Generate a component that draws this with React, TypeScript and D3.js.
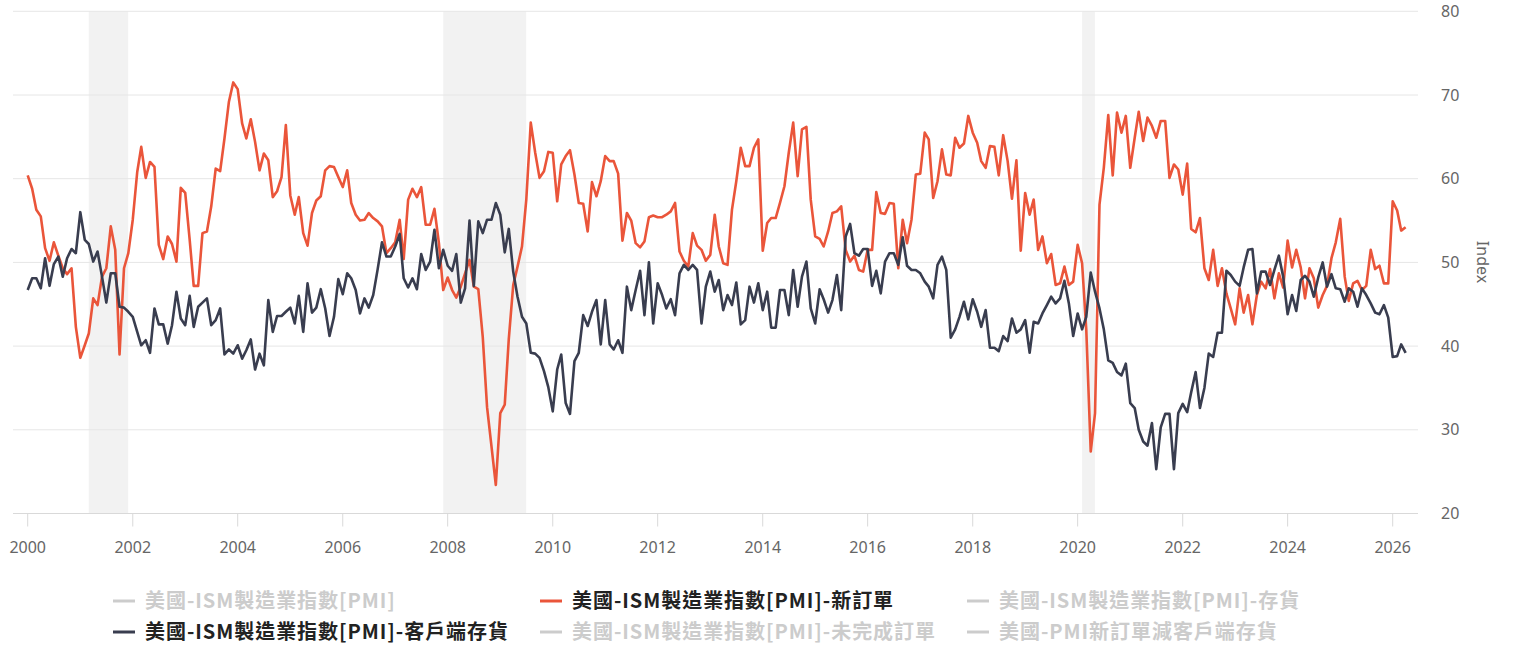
import * as d3 from 'd3';
import React, { useEffect, useRef } from 'react';

// monthly values, Jan 2000 onwards
const startMonth = new Date(2000, 0, 1);

const newOrders = [
    // 2000
    60.4, 58.8, 56.3, 55.5, 51.7, 50.2, 52.4, 50.8, 49.3, 48.6, 49.3, 42.3,
    // 2001
    38.6, 40.1, 41.5, 45.7, 44.9, 48.3, 49.3, 54.3, 51.5, 39.0, 49.3, 51.1,
    // 2002
    55.1, 60.8, 63.8, 60.1, 62.0, 61.4, 52.1, 50.4, 53.1, 52.2, 50.1, 58.9,
    // 2003
    58.3, 52.7, 47.2, 47.2, 53.5, 53.7, 56.7, 61.2, 60.9, 64.8, 69.2, 71.5,
    // 2004
    70.7, 66.6, 64.8, 67.1, 64.4, 61.0, 63.0, 62.2, 57.8, 58.5, 60.2, 66.4,
    // 2005
    58.0, 55.7, 57.8, 53.5, 52.0, 55.9, 57.4, 57.9, 61.0, 61.5, 61.4, 60.2,
    // 2006
    59.0, 61.0, 57.1, 55.7, 55.0, 55.1, 55.9, 55.3, 54.9, 54.3, 51.1, 51.7,
    // 2007
    52.4, 55.1, 50.4, 57.5, 58.8, 57.8, 59.0, 54.5, 54.5, 56.4, 52.3, 46.7,
    // 2008
    48.2, 46.7, 45.8, 47.1, 48.7, 50.3, 47.1, 46.8, 41.1, 32.7, 28.0, 23.4,
    // 2009
    32.0, 33.0, 40.8, 47.3, 49.5, 51.9, 57.5, 66.7, 63.1, 60.1, 60.9, 63.2,
    // 2010
    63.1, 57.3, 61.7, 62.7, 63.4, 60.5, 57.1, 57.0, 53.7, 59.6, 57.9, 59.7,
    // 2011
    62.7, 62.1, 62.1, 60.6, 52.6, 55.9, 55.0, 52.3, 51.8, 52.5, 55.4, 55.6,
    // 2012
    55.4, 55.4, 55.7, 56.1, 57.1, 51.3, 50.2, 49.5, 53.5, 52.0, 51.5, 50.2,
    // 2013
    50.9, 55.7, 51.9, 49.9, 49.7, 56.3, 59.7, 63.7, 61.5, 61.5, 63.7, 64.7,
    // 2014
    51.4, 54.7, 55.3, 55.3, 57.1, 59.1, 63.1, 66.7, 60.3, 65.9, 66.2, 57.5,
    // 2015
    53.1, 52.8, 51.9, 53.7, 55.9, 56.1, 56.7, 51.5, 50.1, 50.8, 49.1, 48.9,
    // 2016
    51.5, 51.5, 58.4, 55.9, 55.8, 57.1, 57.0, 49.3, 55.1, 52.3, 55.1, 60.5,
    // 2017
    60.6, 65.5, 64.7, 57.7, 59.7, 63.5, 60.5, 60.4, 64.9, 63.7, 64.2, 67.5,
    // 2018
    65.5, 64.3, 62.1, 61.3, 63.9, 63.8, 60.4, 65.2, 62.1, 57.6, 62.2, 51.4,
    // 2019
    58.3, 55.7, 57.5, 51.5, 53.1, 49.9, 51.0, 47.3, 47.5, 49.5, 47.3, 47.7,
    // 2020
    52.1, 49.9, 42.0, 27.4, 32.0, 56.9, 61.3, 67.6, 60.4, 67.9, 65.5, 67.5,
    // 2021
    61.3, 64.9, 68.0, 64.5, 67.3, 66.3, 64.9, 66.9, 66.9, 60.1, 61.7, 61.1,
    // 2022
    58.1, 61.8, 54.0, 53.6, 55.3, 49.3, 47.9, 51.5, 47.2, 49.3, 46.3, 44.5,
    // 2023
    42.6, 46.9, 44.0, 46.1, 42.6, 46.1, 47.7, 46.9, 49.2, 45.7, 48.7, 47.0,
    // 2024
    52.6, 49.4, 51.5, 49.4, 45.7, 49.3, 48.1, 44.6, 46.1, 47.2, 50.5, 52.4,
    // 2025
    55.2, 48.3, 45.4, 47.5, 47.8, 46.7, 47.2, 51.5, 49.2, 49.6, 47.5, 47.5,
    // 2026
    57.3, 56.2, 53.8, 54.2,
];

const customerInventories = [
    // 2000
    46.7, 48.1, 48.1, 46.9, 50.5, 47.2, 49.8, 50.7, 48.3, 50.5, 51.6, 51.1,
    // 2001
    56.0, 52.7, 52.2, 50.1, 51.3, 48.3, 45.2, 48.7, 48.7, 44.7, 44.6, 44.1,
    // 2002
    43.5, 41.7, 40.1, 40.7, 39.2, 44.5, 42.6, 42.6, 40.3, 42.5, 46.5, 43.3,
    // 2003
    42.5, 46.0, 42.3, 44.7, 45.2, 45.7, 42.5, 43.1, 44.5, 39.0, 39.6, 39.1,
    // 2004
    40.1, 38.5, 39.5, 40.8, 37.2, 39.1, 37.7, 45.5, 41.7, 43.6, 43.6, 44.1,
    // 2005
    44.6, 42.7, 46.0, 41.7, 47.5, 44.0, 44.6, 46.8, 44.5, 41.2, 43.5, 48.0,
    // 2006
    46.2, 48.7, 48.1, 46.7, 43.9, 45.7, 44.6, 46.1, 49.2, 52.4, 50.7, 50.7,
    // 2007
    51.9, 53.4, 48.1, 47.0, 48.1, 46.8, 51.0, 49.1, 50.1, 53.9, 49.3, 51.5,
    // 2008
    49.6, 49.0, 51.0, 45.2, 46.9, 55.0, 47.2, 54.9, 53.5, 55.1, 55.1, 57.1,
    // 2009
    55.7, 51.2, 54.0, 48.9, 45.9, 43.5, 42.7, 39.2, 39.1, 38.6, 37.0, 35.1,
    // 2010
    32.2, 37.2, 39.0, 33.2, 31.9, 38.2, 39.2, 43.7, 42.4, 44.1, 45.5, 40.2,
    // 2011
    45.5, 40.2, 39.6, 40.7, 39.2, 47.1, 44.3, 46.7, 49.0, 43.7, 50.0, 42.7,
    // 2012
    47.5, 46.1, 44.5, 45.6, 43.7, 48.7, 49.7, 49.1, 49.7, 49.1, 42.7, 47.1,
    // 2013
    48.9, 46.5, 47.9, 44.3, 46.1, 44.9, 47.6, 42.6, 43.1, 47.1, 45.2, 47.5,
    // 2014
    44.3, 46.5, 42.2, 42.2, 46.7, 46.7, 43.7, 49.1, 44.7, 48.3, 50.1, 44.5,
    // 2015
    42.7, 46.8, 45.6, 44.0, 45.5, 48.5, 44.3, 53.1, 54.6, 51.1, 50.8, 51.6,
    // 2016
    51.6, 47.2, 49.0, 46.3, 50.1, 51.1, 51.1, 49.7, 53.0, 49.6, 49.1, 49.1,
    // 2017
    48.7, 47.7, 47.1, 45.7, 49.7, 50.7, 49.1, 41.0, 42.0, 43.5, 45.3, 43.2,
    // 2018
    45.6, 44.1, 42.3, 44.3, 39.8, 39.8, 39.4, 41.2, 40.6, 43.3, 41.6, 42.0,
    // 2019
    43.1, 39.2, 42.9, 42.7, 43.9, 44.9, 45.9, 45.1, 45.7, 47.8, 45.1, 41.2,
    // 2020
    43.9, 42.0, 43.5, 48.8, 46.5, 44.5, 42.0, 38.3, 38.0, 36.9, 36.5, 37.9,
    // 2021
    33.2, 32.6, 30.0, 28.6, 28.1, 30.8, 25.3, 30.3, 31.9, 31.9, 25.3, 32.0,
    // 2022
    33.1, 32.1, 34.5, 36.9, 32.6, 35.0, 39.1, 38.7, 41.6, 41.6, 49.0, 48.5,
    // 2023
    47.7, 47.2, 49.4, 51.5, 51.6, 46.3, 48.9, 48.9, 47.3, 49.1, 50.8, 48.3,
    // 2024
    43.8, 46.1, 44.2, 47.9, 48.4, 47.7, 45.9, 48.2, 50.0, 47.1, 48.6, 46.9,
    // 2025
    46.8, 45.3, 46.9, 46.5, 44.7, 46.9, 46.1, 45.1, 44.0, 43.8, 44.9, 43.4,
    // 2026
    38.7, 38.8, 40.2, 39.2,
];

const recessions: [string, string][] = [
    ['2001-03-01', '2001-11-30'],
    ['2007-12-01', '2009-06-30'],
    ['2020-02-01', '2020-04-30'],
];

const yTicks = [20, 30, 40, 50, 60, 70, 80];
const xTickYears = [2000, 2002, 2004, 2006, 2008, 2010, 2012, 2014, 2016, 2018, 2020, 2022, 2024, 2026];

const legendItems = [
    { name: '美國-ISM製造業指數[PMI]', color: '#cccccc', active: false },
    { name: '美國-ISM製造業指數[PMI]-新訂單', color: '#ea553a', active: true },
    { name: '美國-ISM製造業指數[PMI]-存貨', color: '#cccccc', active: false },
    { name: '美國-ISM製造業指數[PMI]-客戶端存貨', color: '#393d4f', active: true },
    { name: '美國-ISM製造業指數[PMI]-未完成訂單', color: '#cccccc', active: false },
    { name: '美國-PMI新訂單減客戶端存貨', color: '#cccccc', active: false },
];

const WIDTH = 1516;
const HEIGHT = 665;
const PLOT_LEFT = 13;
const PLOT_RIGHT = 1418;
const PLOT_TOP = 11.3;
const PLOT_BOTTOM = 513.5;
const AXIS_FONT = '"Noto Sans", "Open Sans", sans-serif';
const LEGEND_FONT = '"Noto Sans CJK TC", "Noto Sans CJK SC", sans-serif';

const App: React.FC = () => {
    const svgRef = useRef<SVGSVGElement | null>(null);

    useEffect(() => {
        if (!svgRef.current) return;
        const svg = d3.select(svgRef.current);
        svg.selectAll('*').remove();

        const x = d3
            .scaleTime()
            .domain([new Date(2000, 0, 1), new Date(2026, 0, 1)])
            .range([27.7, 1392.7]);
        const y = d3.scaleLinear().domain([20, 80]).range([PLOT_BOTTOM, PLOT_TOP]);
        const monthDate = (i: number) => d3.timeMonth.offset(startMonth, i);

        // recession bands
        svg.append('g')
            .selectAll('rect')
            .data(recessions)
            .join('rect')
            .attr('x', (d) => x(new Date(d[0])))
            .attr('width', (d) => x(new Date(d[1])) - x(new Date(d[0])))
            .attr('y', PLOT_TOP)
            .attr('height', PLOT_BOTTOM - PLOT_TOP)
            .attr('fill', '#f2f2f2');

        // horizontal grid
        svg.append('g')
            .selectAll('line')
            .data(yTicks.filter((t) => t !== 20))
            .join('line')
            .attr('x1', PLOT_LEFT)
            .attr('x2', PLOT_RIGHT)
            .attr('y1', (d) => y(d))
            .attr('y2', (d) => y(d))
            .attr('stroke', '#e6e6e6')
            .attr('stroke-width', 1);

        // x axis line + ticks
        svg.append('line')
            .attr('x1', PLOT_LEFT)
            .attr('x2', PLOT_RIGHT)
            .attr('y1', y(20))
            .attr('y2', y(20))
            .attr('stroke', '#d9d9d9');

        const xt = svg
            .append('g')
            .selectAll('g')
            .data(xTickYears)
            .join('g')
            .attr('transform', (d) => `translate(${x(new Date(d, 0, 1))},0)`);
        xt.append('line')
            .attr('y1', y(20))
            .attr('y2', y(20) + 13)
            .attr('stroke', '#d9d9d9');
        xt.append('text')
            .attr('y', 553)
            .attr('text-anchor', 'middle')
            .attr('font-family', AXIS_FONT)
            .attr('font-size', 16)
            .attr('fill', '#666666')
            .text((d) => String(d));

        // y labels on the right
        svg.append('g')
            .selectAll('text')
            .data(yTicks)
            .join('text')
            .attr('x', 1441)
            .attr('y', (d) => y(d))
            .attr('dy', '0.35em')
            .attr('font-family', AXIS_FONT)
            .attr('font-size', 16)
            .attr('fill', '#666666')
            .text((d) => String(d));

        svg.append('text')
            .attr('transform', 'translate(1477,262) rotate(90)')
            .attr('text-anchor', 'middle')
            .attr('font-family', AXIS_FONT)
            .attr('font-size', 16)
            .attr('fill', '#666666')
            .text('Index');

        // series
        const line = d3
            .line<number>()
            .x((_, i) => x(monthDate(i)))
            .y((d) => y(d));

        svg.append('path')
            .datum(newOrders)
            .attr('d', line)
            .attr('fill', 'none')
            .attr('stroke', '#ea553a')
            .attr('stroke-width', 2.6)
            .attr('stroke-linejoin', 'round');

        svg.append('path')
            .datum(customerInventories)
            .attr('d', line)
            .attr('fill', 'none')
            .attr('stroke', '#393d4f')
            .attr('stroke-width', 2.6)
            .attr('stroke-linejoin', 'round');

        // legend, 3 columns x 2 rows
        const colX = [113, 540, 967];
        const rowY = [601, 632];
        const lg = svg
            .append('g')
            .selectAll('g')
            .data(legendItems)
            .join('g')
            .attr('transform', (_, i) => `translate(${colX[i % 3]},${rowY[Math.floor(i / 3)]})`);
        lg.append('line')
            .attr('x1', 0)
            .attr('x2', 22)
            .attr('stroke', (d) => d.color)
            .attr('stroke-width', 3);
        lg.append('text')
            .attr('x', 32)
            .attr('dy', '0.36em')
            .attr('font-family', LEGEND_FONT)
            .attr('font-size', 20)
            .attr('letter-spacing', 0.95)
            .attr('font-weight', 'bold')
            .attr('fill', (d) => (d.active ? '#222222' : '#cccccc'))
            .text((d) => d.name);
    }, []);

    return (
        <div>
            <style>{`body { margin: 0; }`}</style>
            <svg ref={svgRef} width={WIDTH} height={HEIGHT} style={{ display: 'block' }} />
        </div>
    );
};

export default App;
